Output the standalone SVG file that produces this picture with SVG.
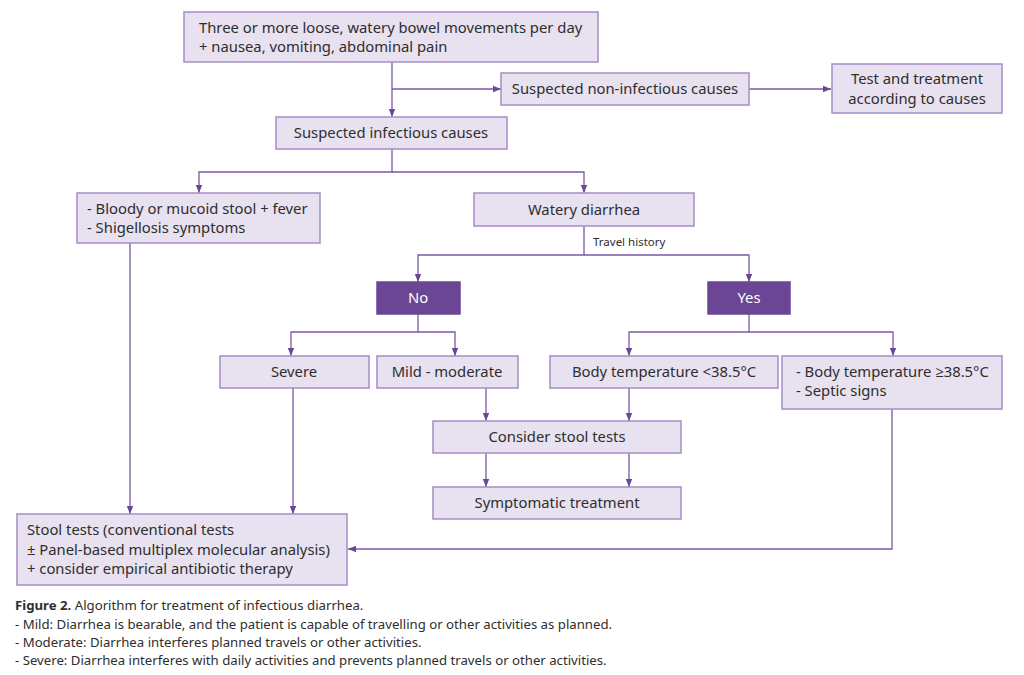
<svg xmlns="http://www.w3.org/2000/svg" width="1024" height="675" viewBox="0 0 1024 675">
<defs>
<style>
.box{fill:#e8e1ef;stroke:#a58dc6;stroke-width:1.5}
.dark{fill:#6b4694;stroke:#6b4694;stroke-width:1.5}
.t{font-family:"Noto Sans","Open Sans",sans-serif;font-size:14.8px;fill:#2e2e2e}
.c{text-anchor:middle}
.w{fill:#fff}
.sm{font-size:11.5px}
.cap{font-family:"Noto Sans","Open Sans",sans-serif;font-size:13.2px;fill:#2e2e2e}
.ln{fill:none;stroke:#7b5aa6;stroke-width:1.3}
</style>
<marker id="ah" viewBox="0 0 8 8" refX="8" refY="4" markerWidth="8" markerHeight="8" markerUnits="userSpaceOnUse" orient="auto">
<path d="M0,0.8 L8,4 L0,7.2 z" fill="#6b4694"/>
</marker>
</defs>
<rect width="1024" height="675" fill="#fff"/>
<g id="connectors">
<path class="ln" d="M392,62 V117" marker-end="url(#ah)"/>
<path class="ln" d="M392,89 H501" marker-end="url(#ah)"/>
<path class="ln" d="M749,89 H831" marker-end="url(#ah)"/>
<path class="ln" d="M392,149 V172 H199 V193" marker-end="url(#ah)"/>
<path class="ln" d="M392,172 H584 V193" marker-end="url(#ah)"/>
<path class="ln" d="M584,226 V255 H418 V282" marker-end="url(#ah)"/>
<path class="ln" d="M584,255 H749 V282" marker-end="url(#ah)"/>
<path class="ln" d="M418,314 V332 H291 V356" marker-end="url(#ah)"/>
<path class="ln" d="M418,332 H455 V356" marker-end="url(#ah)"/>
<path class="ln" d="M749,314 V332 H629 V356" marker-end="url(#ah)"/>
<path class="ln" d="M749,332 H893 V356" marker-end="url(#ah)"/>
<path class="ln" d="M486,388 V421" marker-end="url(#ah)"/>
<path class="ln" d="M629,388 V421" marker-end="url(#ah)"/>
<path class="ln" d="M486,453 V487" marker-end="url(#ah)"/>
<path class="ln" d="M629,453 V487" marker-end="url(#ah)"/>
<path class="ln" d="M130,243 V514" marker-end="url(#ah)"/>
<path class="ln" d="M293,388 V514" marker-end="url(#ah)"/>
<path class="ln" d="M892,409 V549 H348" marker-end="url(#ah)"/>
<text class="t sm" x="593" y="246">Travel history</text>
</g>
<g id="n1"><rect class="box" x="184" y="12" width="414" height="50"/>
<text class="t" x="199" y="33">Three or more loose, watery bowel movements per day</text>
<text class="t" x="199" y="52">+ nausea, vomiting, abdominal pain</text></g>
<g id="n2"><rect class="box" x="501" y="73" width="248" height="32"/>
<text class="t c" x="625" y="94">Suspected non-infectious causes</text></g>
<g id="n3"><rect class="box" x="832" y="64" width="170" height="49"/>
<text class="t c" x="917" y="84">Test and treatment</text>
<text class="t c" x="917" y="104">according to causes</text></g>
<g id="n4"><rect class="box" x="276" y="117" width="231" height="32"/>
<text class="t c" x="391" y="138">Suspected infectious causes</text></g>
<g id="n5"><rect class="box" x="77" y="193" width="243" height="50"/>
<text class="t" x="87" y="214">- Bloody or mucoid stool + fever</text>
<text class="t" x="87" y="233">- Shigellosis symptoms</text></g>
<g id="n6"><rect class="box" x="474" y="193" width="220" height="33"/>
<text class="t c" x="584" y="215">Watery diarrhea</text></g>
<g id="n7"><rect class="dark" x="377" y="282" width="83" height="32"/>
<text class="t c w" x="418" y="303">No</text></g>
<g id="n8"><rect class="dark" x="708" y="282" width="82" height="32"/>
<text class="t c w" x="749" y="303">Yes</text></g>
<g id="n9"><rect class="box" x="220" y="356" width="149" height="32"/>
<text class="t c" x="294" y="377">Severe</text></g>
<g id="n10"><rect class="box" x="377" y="356" width="141" height="32"/>
<text class="t c" x="447" y="377">Mild - moderate</text></g>
<g id="n11"><rect class="box" x="550" y="356" width="228" height="32"/>
<text class="t c" x="664" y="377">Body temperature &lt;38.5°C</text></g>
<g id="n12"><rect class="box" x="782" y="356" width="220" height="53"/>
<text class="t" x="796" y="377">- Body temperature ≥38.5°C</text>
<text class="t" x="796" y="396">- Septic signs</text></g>
<g id="n13"><rect class="box" x="433" y="421" width="248" height="32"/>
<text class="t c" x="557" y="442">Consider stool tests</text></g>
<g id="n14"><rect class="box" x="433" y="487" width="248" height="32"/>
<text class="t c" x="557" y="508">Symptomatic treatment</text></g>
<g id="n15"><rect class="box" x="17" y="514" width="330" height="71"/>
<text class="t" x="27" y="535">Stool tests (conventional tests</text>
<text class="t" x="27" y="555">± Panel-based multiplex molecular analysis)</text>
<text class="t" x="27" y="574">+ consider empirical antibiotic therapy</text></g>
<g id="caption">
<text class="cap" x="15" y="610"><tspan font-weight="bold">Figure 2.</tspan> Algorithm for treatment of infectious diarrhea.</text>
<text class="cap" x="15" y="629">- Mild: Diarrhea is bearable, and the patient is capable of travelling or other activities as planned.</text>
<text class="cap" x="15" y="647">- Moderate: Diarrhea interferes planned travels or other activities.</text>
<text class="cap" x="15" y="665">- Severe: Diarrhea interferes with daily activities and prevents planned travels or other activities.</text>
</g>
</svg>
